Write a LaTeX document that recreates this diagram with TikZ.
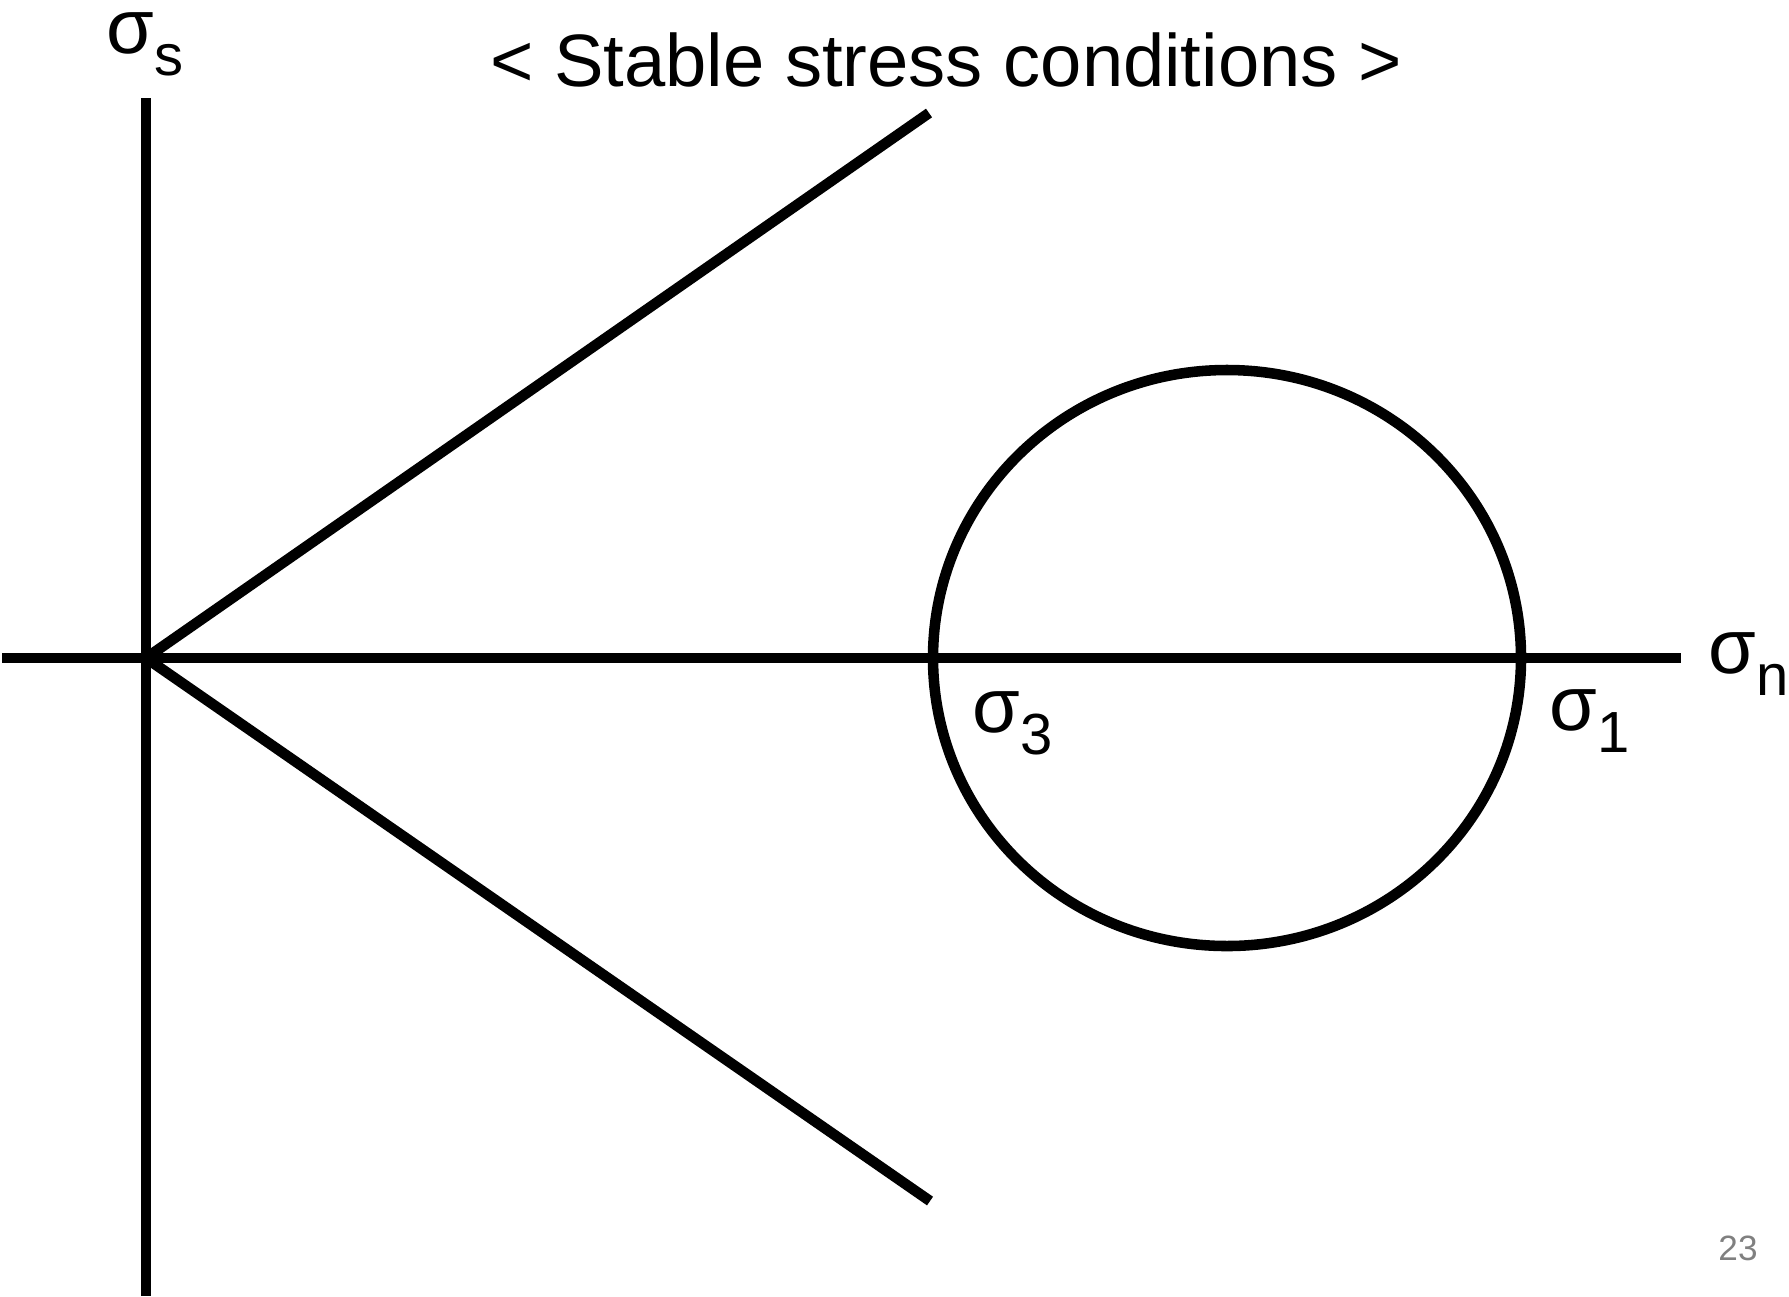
\documentclass[tikz,border=0pt]{standalone}
\usepackage{fontspec}
\setmainfont{Liberation Sans}
\usepackage{tikz}
\tikzset{
  axis/.style={line width=3pt},
  envl/.style={line width=3pt},
  mohr/.style={line width=3pt},
  lbl/.style={inner sep=0pt,anchor=base west,font=\fontsize{22}{25}\selectfont},
  ttl/.style={inner sep=0pt,anchor=base,font=\fontsize{21.1}{25}\selectfont},
  pgno/.style={inner sep=0pt,font=\fontsize{10}{12}\selectfont,text=black!50}
}
\newcommand{\sig}[1]{σ\raisebox{-6.5pt}{\fontsize{16.5}{16}\selectfont #1}}

\begin{document}
\begin{tikzpicture}[x=0.01cm,y=-0.01cm]
\useasboundingbox (0,0) rectangle (1789,1296);
\coordinate (O) at (146,658);
\coordinate (sT) at (146,98);
\coordinate (sB) at (146,1296);
\coordinate (nL) at (2,658);
\coordinate (nR) at (1681,658);
\coordinate (eU) at (929,113);
\coordinate (eD) at (930,1201);
\coordinate (C) at (1227,658);
\draw[axis] (sT)--(sB);
\draw[axis] (nL)--(nR);
\draw[envl] (eU)--(O)--(eD);
\draw[mohr] (C) ellipse [x radius=294,y radius=288];
\node[ttl] (title) at (946,86) {< Stable stress conditions >};
\node[lbl] (ls) at (106,53) {\sig{s}};
\node[lbl] (ln) at (1708,673) {\sig{n}};
\node[lbl] (l3) at (972,732) {\sig{3}};
\node[lbl] (l1) at (1549,730) {\sig{1}};
\node[pgno] (pg) at (1738,1248) {23};
\end{tikzpicture}
\end{document}
